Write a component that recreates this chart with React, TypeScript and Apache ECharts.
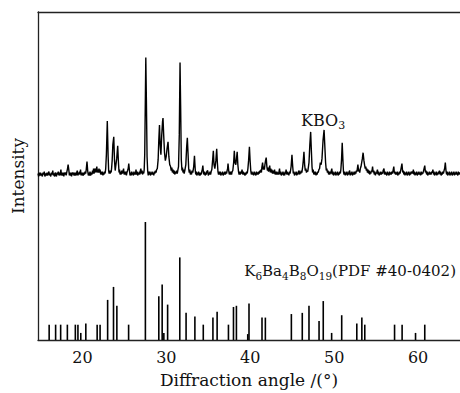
import React, { useEffect, useRef } from "react";
import * as echarts from "echarts";

// X range and ticks (2θ, degrees)
const xMin = 14.7;
const xMax = 65.0;
const xTickValues = [20, 30, 40, 50, 60];

// Reference stick pattern K6Ba4B8O19 (PDF #40-0402): [2θ, relative intensity %]
const refSticks: [number, number][] = [
  [16.03, 13], [16.8, 13], [17.4, 13], [18.2, 13], [19.15, 13], [19.46, 13], [19.8, 6],
  [20.4, 14], [21.75, 13], [22.1, 13], [23.0, 34], [23.7, 45], [24.1, 29], [25.5, 13],
  [27.5, 100], [29.1, 37], [29.5, 47], [29.7, 6], [30.15, 30], [31.6, 70], [32.35, 23],
  [33.4, 20], [34.4, 13], [35.55, 19], [36.05, 24], [37.4, 13], [38.0, 28], [38.35, 29],
  [39.7, 5], [39.85, 31], [41.4, 19], [41.8, 19], [44.9, 22], [46.2, 23], [47.0, 29],
  [48.2, 16], [48.7, 33], [49.7, 6], [50.9, 21], [52.7, 14], [53.3, 19], [53.65, 13],
  [57.2, 13], [58.1, 13], [59.7, 6], [60.8, 13],
];

// Measured KBO3 pattern: [2θ, intensity (a.u.), baseline ≈ 0]
const kbo3Trace: [number, number][] = [
  [14.7, 1], [14.78, -2], [14.85, 2], [14.93, -1], [15.0, 2], [15.08, -1], [15.15, 1], [15.22, -2], [15.3, 2], [15.38, 0], [15.45, 3], [15.52, -2], [15.6, 1], [15.7, -1],
  [15.78, 2], [15.85, -1], [15.93, 1], [16.0, 3], [16.08, -1], [16.15, 1], [16.22, -2], [16.3, 2], [16.38, 0], [16.46, 4], [16.53, -1], [16.6, 1], [16.68, -2], [16.75, 2], [16.82, 0], [16.9, -2],
  [16.98, 2], [17.05, 0], [17.12, 3], [17.2, -1], [17.27, 2], [17.32, -1], [17.43, 5], [17.5, -1], [17.57, 2], [17.63, -1], [17.7, 2], [17.78, -2], [17.85, 2], [17.92, 0], [18.0, 2], [18.06, -1],
  [18.12, 2], [18.22, 6], [18.29, 10], [18.37, 5], [18.44, -1], [18.5, 2], [18.57, -1], [18.63, 2], [18.7, -2], [18.78, 2], [18.85, 0], [18.92, 2], [19.0, -1],
  [19.06, 2], [19.13, -1], [19.2, 2], [19.26, -1], [19.32, 2], [19.38, 4], [19.45, -1], [19.52, 2], [19.58, 0], [19.65, 3], [19.7, 0], [19.77, 5], [19.84, -1], [19.9, 2],
  [19.96, -1], [20.03, 2], [20.1, -1], [20.17, 2], [20.24, 0], [20.3, 3], [20.38, 1], [20.45, 5], [20.54, 13], [20.62, 4], [20.7, -1], [20.77, 2], [20.84, -1],
  [20.9, 3], [20.97, -1], [21.05, 2], [21.12, 0], [21.2, 4], [21.27, 1], [21.32, 6], [21.38, 1], [21.45, 4], [21.52, 6], [21.58, 2], [21.64, 4], [21.71, 8],
  [21.78, 2], [21.84, 5], [21.9, 2], [21.97, 6], [22.04, 2], [22.1, 5], [22.17, 0], [22.24, 3], [22.3, 0], [22.37, 3], [22.44, -1], [22.5, 2], [22.56, 0], [22.62, 3], [22.7, 1], [22.77, 6],
  [22.85, 20], [22.96, 54], [23.06, 18], [23.12, 4], [23.18, 1], [23.24, 4], [23.3, 1], [23.36, 4], [23.42, 2], [23.48, 7], [23.54, 14], [23.62, 30],
  [23.73, 38], [23.82, 14], [23.9, 4], [23.96, 8], [24.08, 16], [24.2, 29], [24.29, 12], [24.36, 2], [24.42, 5], [24.48, 0], [24.55, 3],
  [24.62, 0], [24.68, 4], [24.75, 1], [24.82, 3], [24.9, 6], [24.96, 0], [25.03, 3], [25.1, 0], [25.17, 3], [25.24, -1], [25.3, 2], [25.38, 4], [25.45, 6],
  [25.52, 11], [25.6, 4], [25.67, -1], [25.73, 2], [25.8, -1], [25.87, 3], [25.94, 0], [26.0, 2], [26.07, -1], [26.14, 3], [26.2, 0], [26.27, 2], [26.32, 0], [26.38, 5],
  [26.45, 0], [26.52, 3], [26.58, -1], [26.65, 2], [26.72, 0], [26.79, 3], [26.85, 0], [26.9, 4], [26.96, 6], [27.03, 1], [27.1, 4], [27.16, 0], [27.22, 3], [27.3, 1], [27.36, 5],
  [27.42, 20], [27.5, 80], [27.55, 118], [27.62, 75], [27.7, 18], [27.77, 4], [27.84, -1], [27.9, 3], [27.97, 0], [28.04, 3],
  [28.1, -1], [28.17, 2], [28.24, 0], [28.3, 3], [28.37, 0], [28.44, 2], [28.5, -1], [28.57, 3], [28.63, 1], [28.7, 4], [28.77, 2], [28.84, 5], [28.92, 6], [29.02, 15],
  [29.1, 35], [29.18, 50], [29.26, 30], [29.35, 20], [29.45, 40], [29.55, 54], [29.6, 57], [29.68, 40],
  [29.78, 22], [29.88, 14], [29.98, 18], [30.08, 26], [30.2, 33], [30.3, 18], [30.4, 10], [30.5, 8],
  [30.58, 4], [30.65, 7], [30.72, 2], [30.8, 5], [30.87, 1], [30.94, 4], [31.0, 0], [31.07, 3], [31.14, 1], [31.22, 4], [31.3, 1], [31.38, 5], [31.45, 8],
  [31.54, 40], [31.63, 113], [31.7, 70], [31.78, 15], [31.86, 4], [31.92, 7], [31.98, 2], [32.05, 5], [32.12, 1], [32.2, 4],
  [32.32, 10], [32.42, 28], [32.5, 37], [32.58, 22], [32.66, 6], [32.73, 2], [32.8, 5], [32.86, 0], [32.93, 3], [33.0, 0], [33.07, 4],
  [33.15, 2], [33.26, 8], [33.35, 19], [33.44, 5], [33.5, 0], [33.57, 3], [33.63, -1], [33.7, 2], [33.77, 0], [33.84, 3], [33.9, -1], [33.97, 2],
  [34.04, -1], [34.1, 2], [34.17, 0], [34.22, 3], [34.28, 5], [34.35, 9], [34.42, 2], [34.49, 0], [34.55, 3], [34.62, -1], [34.69, 2], [34.76, 0], [34.82, 3],
  [34.93, 4], [35.0, -1], [35.07, 2], [35.14, 0], [35.2, 3], [35.27, 0], [35.34, 3], [35.42, 5], [35.52, 15], [35.6, 24], [35.68, 10],
  [35.78, 6], [35.9, 14], [36.0, 26], [36.08, 12], [36.15, 3], [36.22, 0], [36.29, 3], [36.36, 0], [36.42, 3], [36.49, -1], [36.56, 2], [36.63, 0],
  [36.7, 3], [36.77, -1], [36.84, 2], [36.9, 0], [36.97, 3], [37.04, 0], [37.11, 3], [37.18, 1], [37.24, 4], [37.3, 6], [37.35, 11], [37.43, 4],
  [37.5, 0], [37.57, 3], [37.64, 0], [37.7, 3], [37.77, 0], [37.84, 3], [37.92, 4], [38.02, 12], [38.1, 24], [38.18, 12], [38.28, 10],
  [38.36, 16], [38.44, 23], [38.52, 10], [38.6, 3], [38.67, 0], [38.74, 3], [38.8, 0], [38.87, 3], [38.94, 1], [39.02, 5], [39.09, 0],
  [39.16, 3], [39.23, 0], [39.3, 2], [39.37, -1], [39.44, 2], [39.5, 0], [39.57, 3], [39.64, 1], [39.72, 6], [39.8, 14], [39.9, 28], [39.98, 14],
  [40.06, 4], [40.13, 0], [40.2, 3], [40.27, 0], [40.34, 2], [40.4, -1], [40.47, 3], [40.54, 0], [40.6, 2], [40.67, -1], [40.74, 3], [40.8, 0], [40.87, 2], [40.94, 0],
  [41.0, 3], [41.07, 1], [41.14, 4], [41.2, 2], [41.27, 5], [41.33, 2], [41.38, 7], [41.47, 12], [41.55, 5], [41.62, 8], [41.68, 5], [41.75, 10],
  [41.82, 14], [41.9, 17], [41.98, 8], [42.05, 4], [42.12, 7], [42.18, 3], [42.25, 6], [42.32, 9], [42.39, 2], [42.45, 6],
  [42.52, 2], [42.58, 5], [42.65, 1], [42.72, 4], [42.8, 1], [42.9, 5], [42.96, 0], [43.03, 3], [43.1, 0], [43.17, 3], [43.24, 0], [43.3, 2], [43.37, 0], [43.43, 3],
  [43.49, 6], [43.56, 0], [43.63, 3], [43.7, -1], [43.77, 2], [43.84, 0], [43.9, 3], [43.97, -1], [44.04, 2], [44.1, -1], [44.17, 3], [44.22, 1],
  [44.27, 5], [44.34, 0], [44.4, 3], [44.47, 0], [44.54, 2], [44.6, -1], [44.67, 3], [44.74, 1], [44.8, 4], [44.87, 8], [44.97, 20], [45.06, 8],
  [45.13, 1], [45.2, 3], [45.27, -1], [45.34, 2], [45.4, 0], [45.47, 3], [45.54, -1], [45.6, 2], [45.67, 0], [45.74, 3], [45.82, 4], [45.88, 0],
  [45.95, 3], [46.02, 1], [46.08, 4], [46.15, 2], [46.25, 8], [46.32, 14], [46.4, 23], [46.48, 10], [46.56, 4], [46.63, 6],
  [46.7, 2], [46.78, 4], [46.85, 3], [46.92, 7], [47.0, 12], [47.1, 30], [47.2, 43], [47.28, 25], [47.36, 8], [47.43, 2], [47.5, 5],
  [47.57, 0], [47.64, 3], [47.7, 0], [47.77, 3], [47.84, -1], [47.9, 2], [47.97, 0], [48.04, 3], [48.1, 2], [48.18, 5], [48.26, 6],
  [48.35, 12], [48.45, 10], [48.55, 16], [48.68, 35], [48.8, 45], [48.88, 30], [48.98, 12], [49.06, 4], [49.13, 6], [49.2, 2], [49.27, 4],
  [49.34, 0], [49.4, 3], [49.47, 0], [49.54, 3], [49.6, 1], [49.66, 4], [49.72, 6], [49.79, 0], [49.86, 3], [49.93, -1], [50.0, 2], [50.07, 0], [50.14, 3],
  [50.2, -1], [50.27, 2], [50.34, 0], [50.4, 3], [50.47, -1], [50.54, 2], [50.6, 0], [50.67, 3], [50.74, 1], [50.8, 5], [50.88, 15], [50.96, 32], [51.04, 15],
  [51.11, 3], [51.18, 0], [51.25, 3], [51.32, -1], [51.38, 2], [51.45, 0], [51.52, 3], [51.58, -1], [51.65, 2], [51.72, 0], [51.78, 3], [51.85, 4],
  [51.92, -1], [51.98, 2], [52.05, 0], [52.12, 3], [52.18, -1], [52.25, 2], [52.32, 0], [52.38, 3], [52.45, 0], [52.52, 3], [52.58, 1], [52.65, 4],
  [52.72, 3], [52.83, 10], [52.92, 3], [52.98, 5], [53.05, 2], [53.12, 6], [53.2, 8], [53.28, 12], [53.36, 16], [53.45, 22], [53.55, 14], [53.62, 10], [53.7, 6],
  [53.77, 8], [53.84, 4], [53.9, 6], [53.97, 2], [54.04, 5], [54.1, 1], [54.17, 4], [54.24, 0], [54.3, 3], [54.37, 1], [54.44, 4], [54.5, 3], [54.58, 8],
  [54.65, 2], [54.72, 4], [54.78, 0], [54.85, 3], [54.92, -1], [54.98, 2], [55.05, 1], [55.1, 3], [55.16, 5], [55.23, 0], [55.3, 3], [55.36, -1], [55.43, 2],
  [55.5, 0], [55.57, 3], [55.63, 0], [55.7, 2], [55.77, 1], [55.84, 4], [55.94, 6], [56.0, 0], [56.07, 3], [56.14, 0], [56.2, 2], [56.27, -1], [56.34, 3],
  [56.4, 0], [56.47, 2], [56.54, -1], [56.6, 3], [56.67, 0], [56.74, 2], [56.8, 0], [56.87, 3], [56.94, 1], [57.02, 4], [57.11, 8], [57.18, 1],
  [57.25, 3], [57.32, 0], [57.38, 2], [57.45, 0], [57.52, 3], [57.58, -1], [57.65, 2], [57.72, 0], [57.78, 3], [57.85, 1], [57.95, 5], [58.08, 11], [58.17, 2],
  [58.24, 4], [58.3, 0], [58.37, 3], [58.44, -1], [58.5, 2], [58.57, 0], [58.64, 3], [58.7, -1], [58.77, 2], [58.84, 0], [58.9, 3], [58.97, -1],
  [59.04, 2], [59.1, 0], [59.17, 3], [59.24, 1], [59.3, 3], [59.37, 1], [59.44, 5], [59.5, 0], [59.57, 3], [59.64, -1], [59.7, 2], [59.77, 0],
  [59.84, 3], [59.9, -1], [59.97, 2], [60.04, 0], [60.1, 3], [60.17, 0], [60.24, 2], [60.3, -1], [60.37, 3], [60.44, 0], [60.5, 2], [60.57, 1],
  [60.66, 4], [60.8, 9], [60.88, 2], [60.95, 4], [61.02, 0], [61.08, 3], [61.15, -1], [61.22, 2], [61.28, 0], [61.35, 3], [61.42, 0], [61.48, 2],
  [61.55, 0], [61.62, 3], [61.7, 2], [61.77, 5], [61.84, 0], [61.9, 3], [61.97, -1], [62.04, 2], [62.1, 0], [62.17, 3], [62.24, -1], [62.3, 2],
  [62.37, 0], [62.44, 3], [62.5, 1], [62.55, 4], [62.62, 0], [62.68, 3], [62.75, -1], [62.82, 2], [62.88, 0], [62.95, 3], [63.02, 1], [63.1, 4],
  [63.17, 6], [63.25, 12], [63.33, 4], [63.4, 0], [63.47, 3], [63.53, -1], [63.6, 2], [63.67, 0], [63.73, 3], [63.8, -1], [63.87, 2], [63.93, 0],
  [64.0, 3], [64.07, -1], [64.14, 2], [64.2, 0], [64.27, 3], [64.34, -1], [64.4, 2], [64.47, 0], [64.54, 3], [64.6, 0], [64.67, 2], [64.74, -1],
  [64.8, 3], [64.87, 0], [64.94, 2], [65.0, 0],
];

const xAxisTitle = "Diffraction angle /(°)";
const yAxisTitle = "Intensity";

const FONT = "DejaVu Serif";
const INK = "#111";

export default function App() {
  const ref = useRef<HTMLDivElement>(null);

  useEffect(() => {
    if (!ref.current) return;
    const chart = echarts.init(ref.current, undefined, { renderer: "svg" });
    const rich = {
      a: { fontSize: 15, fontFamily: FONT, fill: INK, verticalAlign: "top", lineHeight: 15 },
      s: { fontSize: 10.5, fontFamily: FONT, fill: INK, verticalAlign: "top", lineHeight: 10.5, padding: [7.5, 0, 0, 0] },
    };
    chart.setOption({
      animation: false,
      backgroundColor: "#fff",
      textStyle: { fontFamily: FONT, color: INK },
      grid: { left: 38, right: -9, top: 12, bottom: 50, containLabel: false },
      xAxis: [
        {
          type: "value",
          min: xMin,
          max: xMax,
          position: "bottom",
          axisLine: { show: true, onZero: false, lineStyle: { color: "#222", width: 1.3 } },
          axisTick: { show: false, customValues: xTickValues },
          splitLine: { show: false },
          axisLabel: {
            customValues: xTickValues,
            margin: 9,
            fontSize: 16,
            fontFamily: FONT,
            color: INK,
          },
          name: xAxisTitle,
          nameLocation: "middle",
          nameGap: 31,
          nameTextStyle: { fontSize: 17, fontFamily: FONT, color: INK },
        },
        {
          type: "value",
          min: xMin,
          max: xMax,
          position: "top",
          axisLine: { show: true, onZero: false, lineStyle: { color: "#222", width: 1.3 } },
          axisTick: { show: false },
          axisLabel: { show: false },
          splitLine: { show: false },
        },
      ],
      yAxis: [
        {
          type: "value",
          min: 0,
          max: 278,
          position: "left",
          axisLine: { show: true, onZero: false, lineStyle: { color: "#222", width: 1.3 } },
          axisTick: { show: false },
          axisLabel: { show: false },
          splitLine: { show: false },
          name: yAxisTitle,
          nameLocation: "middle",
          nameGap: 12,
          nameTextStyle: { fontSize: 17, fontFamily: FONT, color: INK },
        },
        {
          type: "value",
          min: -167,
          max: 164,
          show: false,
          splitLine: { show: false },
        },
      ],
      series: [
        {
          type: "line",
          name: "KBO3",
          xAxisIndex: 0,
          yAxisIndex: 1,
          data: kbo3Trace,
          showSymbol: false,
          symbol: "none",
          lineStyle: { color: "#000", width: 1.4 },
          silent: true,
        },
        {
          type: "custom",
          name: "K6Ba4B8O19",
          xAxisIndex: 0,
          yAxisIndex: 0,
          data: refSticks,
          encode: { x: 0, y: 1 },
          renderItem: (params: any, api: any) => {
            const x = api.value(0);
            const y = api.value(1);
            const p0 = api.coord([x, 0]);
            const p1 = api.coord([x, y]);
            return {
              type: "line",
              shape: { x1: p0[0], y1: p0[1], x2: p1[0], y2: p1[1] },
              style: { stroke: "#000", lineWidth: 1.6 },
            };
          },
          silent: true,
        },
      ],
      graphic: [
        {
          type: "text",
          left: 301,
          top: 112,
          style: {
            text: "{a|KBO}{s|3}",
            rich: {
              a: { ...rich.a, fontSize: 16, lineHeight: 16 },
              s: { ...rich.s, fontSize: 11, lineHeight: 11, padding: [8, 0, 0, 0] },
            },
          },
        },
        {
          type: "text",
          right: 4,
          top: 263,
          style: {
            text: "{a|K}{s|6}{a|Ba}{s|4}{a|B}{s|8}{a|O}{s|19}{a|(PDF #40-0402)}",
            rich,
          },
        },
      ],
    });
    return () => chart.dispose();
  }, []);

  return (
    <div
      ref={ref}
      style={{ position: "fixed", left: 0, top: 0, width: 460, height: 393, background: "#fff" }}
    />
  );
}
